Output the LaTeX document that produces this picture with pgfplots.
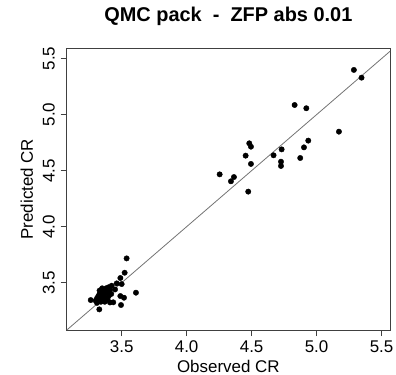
\documentclass[border=0pt]{standalone}
\usepackage{pgfplots}
\pgfplotsset{compat=1.18}
\usepackage{fontspec}
\setmainfont{Liberation Sans}
\begin{document}
\begin{tikzpicture}
\path (-66.7bp,-45bp) rectangle (329.3bp,330bp);
\begin{axis}[
  at={(0,0)}, anchor=origin,
  scale only axis,
  width=323.3bp, height=281.7bp,
  xmin=3.077, xmax=5.565, ymin=3.078, ymax=5.592,
  axis line style={black!75, line width=0.8bp},
  xtick={3.5,4.0,4.5,5.0,5.5},
  ytick={3.5,4.0,4.5,5.0,5.5},
  xticklabels={3.5,4.0,4.5,5.0,5.5},
  yticklabels={3.5,4.0,4.5,5.0,5.5},
  tick align=outside, tick pos=left,
  major tick length=6bp,
  tick style={black!75, line width=0.8bp},
  x tick label style={font=\fontsize{17}{20}\selectfont, anchor=base, inner sep=0pt},
  every x tick label/.append style={yshift=-16bp},
  y tick label style={font=\fontsize{17}{20}\selectfont, rotate=90, anchor=base, inner sep=0pt},
  every y tick label/.append style={yshift=6bp},
  xlabel={Observed CR},
  ylabel={Predicted CR},
  xlabel style={font=\fontsize{17}{20}\selectfont, at={(axis description cs:0.5,0)}, anchor=center, yshift=-36bp, inner sep=0pt},
  ylabel style={font=\fontsize{17}{20}\selectfont, at={(axis description cs:0,0.5)}, anchor=center, yshift=40bp, inner sep=0pt},
  title={QMC pack \ - \ ZFP abs 0.01},
  title style={font=\fontsize{20}{24}\selectfont\bfseries, at={(axis description cs:0.5,1)}, anchor=center, yshift=26bp, inner sep=0pt},
  clip=false,
]
\addplot[black!55, line width=0.8bp] coordinates {(3.077,3.077) (5.565,5.565)};
\addplot[only marks, mark=*, mark size=2.7bp, mark options={fill=black, draw=black}] coordinates {
(5.287,5.399) (5.346,5.330) (4.831,5.086) (4.921,5.057) (5.172,4.848)
(4.936,4.768) (4.903,4.708) (4.874,4.613) (4.731,4.690) (4.669,4.637)
(4.726,4.580) (4.726,4.542) (4.482,4.744) (4.495,4.714) (4.454,4.634)
(4.495,4.560) (4.254,4.467) (4.341,4.405) (4.364,4.443) (4.474,4.313)
(3.538,3.717) (3.523,3.589) (3.490,3.542) (3.500,3.488) (3.462,3.494)
(3.423,3.473) (3.449,3.440) (3.610,3.411) (3.518,3.366) (3.490,3.381)
(3.495,3.301) (3.410,3.324) (3.328,3.262) (3.262,3.345) (3.435,3.325)
(3.30,3.34) (3.31,3.36) (3.32,3.38) (3.33,3.40) (3.34,3.37) (3.35,3.42)
(3.36,3.39) (3.37,3.43) (3.38,3.36) (3.39,3.41) (3.40,3.38) (3.36,3.35)
(3.34,3.33) (3.32,3.35) (3.38,3.45) (3.41,3.44) (3.35,3.45) (3.37,3.33)
(3.39,3.35) (3.33,3.43) (3.42,3.40) (3.31,3.32) (3.36,3.41) (3.40,3.46)
};
\end{axis}
\end{tikzpicture}
\end{document}
